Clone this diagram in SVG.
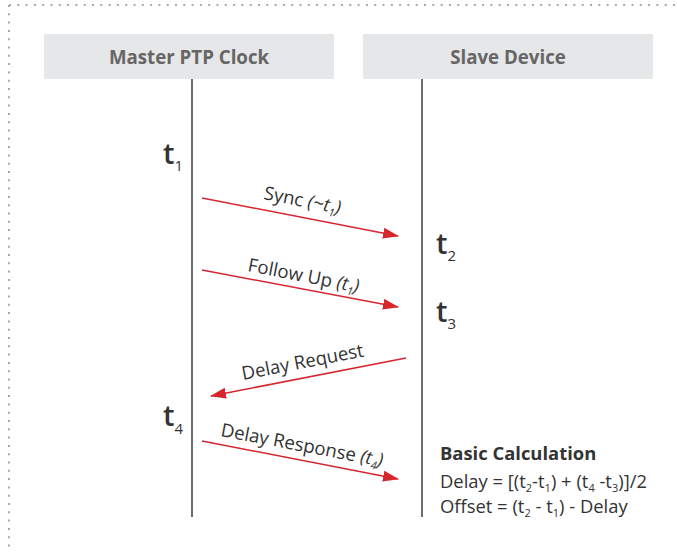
<svg xmlns="http://www.w3.org/2000/svg" width="677" height="553" viewBox="0 0 677 553">
<defs>
<style>
.border{stroke:#aaaaaa;stroke-width:2;stroke-dasharray:2 6.3;fill:none}
.hdr{fill:#e6e7e8}
.hdrt{font-family:"Open Sans",sans-serif;font-weight:700;font-size:18.7px;fill:#666;text-anchor:middle}
.life{stroke:#6d6d6d;stroke-width:2}
.msg{stroke:#d7262e;stroke-width:1.5;fill:none;marker-end:url(#ah)}
.lbl{font-family:"Open Sans",sans-serif;font-size:18.6px;fill:#333}
.tl{font-family:"Open Sans",sans-serif;font-size:29px;font-weight:600;fill:#333}
.calc{font-family:"Open Sans",sans-serif;font-size:18.4px;fill:#333}
</style>
<marker id="ah" markerWidth="16" markerHeight="11" refX="15" refY="5.5" orient="auto" markerUnits="userSpaceOnUse">
<path d="M0,0 L16,5.5 L0,11 Z" fill="#d7262e"/>
</marker>
</defs>
<rect width="677" height="553" fill="#fff"/>
<path class="border" d="M9,5 H677 M9,5 V549"/>
<g id="master">
<rect class="hdr" x="44" y="34" width="290" height="45"/>
<text class="hdrt" x="189" y="64">Master PTP Clock</text>
<line class="life" x1="192" y1="79" x2="192" y2="517"/>
</g>
<g id="slave">
<rect class="hdr" x="363" y="34" width="290" height="45"/>
<text class="hdrt" x="508" y="64">Slave Device</text>
<line class="life" x1="422" y1="79" x2="422" y2="517"/>
</g>
<g id="connectors">
<line class="msg" x1="202" y1="198" x2="398" y2="236"/>
<line class="msg" x1="202" y1="270" x2="398" y2="307"/>
<line class="msg" x1="406" y1="358" x2="211" y2="396"/>
<line class="msg" x1="202" y1="441" x2="398" y2="479"/>
</g>
<g id="labels">
<text class="lbl" transform="translate(263,199) rotate(11)">Sync <tspan font-style="italic">(~t<tspan font-size="11" dy="4">1</tspan><tspan dy="-4">)</tspan></tspan></text>
<text class="lbl" transform="translate(247,271) rotate(11)">Follow Up <tspan font-style="italic">(t<tspan font-size="11" dy="4">1</tspan><tspan dy="-4">)</tspan></tspan></text>
<text class="lbl" transform="translate(243,380) rotate(-11)">Delay Request</text>
<text class="lbl" transform="translate(220,436) rotate(10.7)">Delay Response <tspan font-style="italic">(t<tspan font-size="11" dy="4">4</tspan><tspan dy="-4">)</tspan></tspan></text>
</g>
<g id="times">
<text class="tl" x="163" y="164">t<tspan font-size="15" font-weight="400" dy="7">1</tspan></text>
<text class="tl" x="436" y="254">t<tspan font-size="15" font-weight="400" dy="7">2</tspan></text>
<text class="tl" x="436" y="322">t<tspan font-size="15" font-weight="400" dy="7">3</tspan></text>
<text class="tl" x="163" y="426">t<tspan font-size="15" font-weight="400" dy="8">4</tspan></text>
</g>
<g id="calculation">
<text class="calc" x="440" y="460" font-weight="700" font-size="18.7" fill="#222">Basic Calculation</text>
<text class="calc" x="440" y="488">Delay = [(t<tspan font-size="11" dy="4">2</tspan><tspan dy="-4">-t</tspan><tspan font-size="11" dy="4">1</tspan><tspan dy="-4">) + (t</tspan><tspan font-size="11" dy="4">4</tspan><tspan dy="-4"> -t</tspan><tspan font-size="11" dy="4">3</tspan><tspan dy="-4">)]/2</tspan></text>
<text class="calc" x="440" y="513">Offset = (t<tspan font-size="11" dy="4">2</tspan><tspan dy="-4"> - t</tspan><tspan font-size="11" dy="4">1</tspan><tspan dy="-4">) - Delay</tspan></text>
</g>
</svg>
